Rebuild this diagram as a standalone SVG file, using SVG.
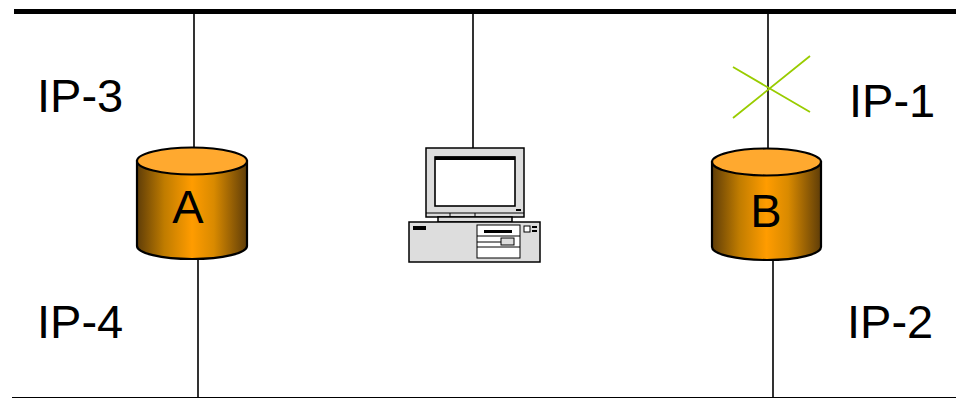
<svg xmlns="http://www.w3.org/2000/svg" width="956" height="398" viewBox="0 0 956 398">
<style>
.ln{stroke:#000;fill:none}
.w{stroke-width:1.6}
.lab{font-family:"Liberation Sans",Arial,sans-serif;font-size:47px;fill:#000}
.cyl{stroke:#000;stroke-width:2.200}
.pc{stroke:#000;stroke-width:1.500;fill:#ddd}
</style>
<defs>
<linearGradient id="g" x1="0" x2="1" y1="0" y2="0">
<stop offset="0" stop-color="#5f3d08"/>
<stop offset="0.25" stop-color="#c07c00"/>
<stop offset="0.5" stop-color="#ff9c00"/>
<stop offset="0.7" stop-color="#d98a00"/>
<stop offset="1" stop-color="#5f3d08"/>
</linearGradient>
</defs>
<rect width="956" height="398" fill="#fff"/>
<g id="connectors">
<path class="ln" stroke-width="5" d="M14 11.500H956"/>
<path class="ln" stroke-width="1.200" d="M12 397.500H956"/>
<path class="ln w" d="M194 13V148M198 258V397M473 13V148M768 13V148M773 258V397"/>
</g>
<g id="node-a">
<path class="cyl" fill="url(#g)" d="M137 161V246C137 253 161 259 192 259S247 253 247 246V161Z"/>
<ellipse class="cyl" cx="192" cy="161" rx="55" ry="13.500" fill="#ffa92f"/>
<text class="lab" x="188" y="223" text-anchor="middle">A</text>
</g>
<g id="node-b">
<path class="cyl" fill="url(#g)" d="M712 162V247C712 254 736 260 767 260S821 254 821 247V162Z"/>
<ellipse class="cyl" cx="766.500" cy="162" rx="54.500" ry="13.500" fill="#ffa92f"/>
<text class="lab" x="766" y="227" text-anchor="middle">B</text>
</g>
<g id="node-pc">
<rect class="pc" x="426" y="148" width="98" height="69"/>
<rect x="435" y="157" width="80" height="49" fill="#fff" stroke="#000" stroke-width="1.600"/>
<path d="M435 156.500H515V160H435Z" fill="#000"/>
<path class="ln" stroke-width="1" d="M426 213H524M450 213V217M475 213V217"/>
<rect x="516" y="209" width="5" height="2" fill="#000"/>
<rect class="pc" x="438" y="217" width="74" height="5"/>
<rect class="pc" x="409" y="222" width="131" height="40"/>
<rect x="413" y="226" width="13" height="4" fill="#000"/>
<rect x="477" y="225" width="43" height="33" fill="#fff" stroke="#000" stroke-width="1"/>
<path class="ln" stroke-width="1" d="M477 236H520M477 247H520M477 242H501"/>
<rect x="484" y="230" width="28" height="3" fill="#000"/>
<rect x="501" y="238" width="13" height="7" fill="#ddd" stroke="#000" stroke-width="1"/>
<rect x="524" y="226" width="6" height="6" fill="#fff" stroke="#000" stroke-width="1"/>
<rect x="532" y="226" width="5" height="2" fill="#000"/>
<rect x="532" y="230" width="5" height="2" fill="#000"/>
</g>
<g id="cross">
<path fill="none" stroke="#99cc00" stroke-width="1.800" d="M733 67L810 112M733 118L810 56"/>
</g>
<g id="labels">
<text class="lab" x="37" y="112">IP-3</text>
<text class="lab" x="37" y="338">IP-4</text>
<text class="lab" x="849" y="117">IP-1</text>
<text class="lab" x="847" y="338">IP-2</text>
</g>
</svg>
